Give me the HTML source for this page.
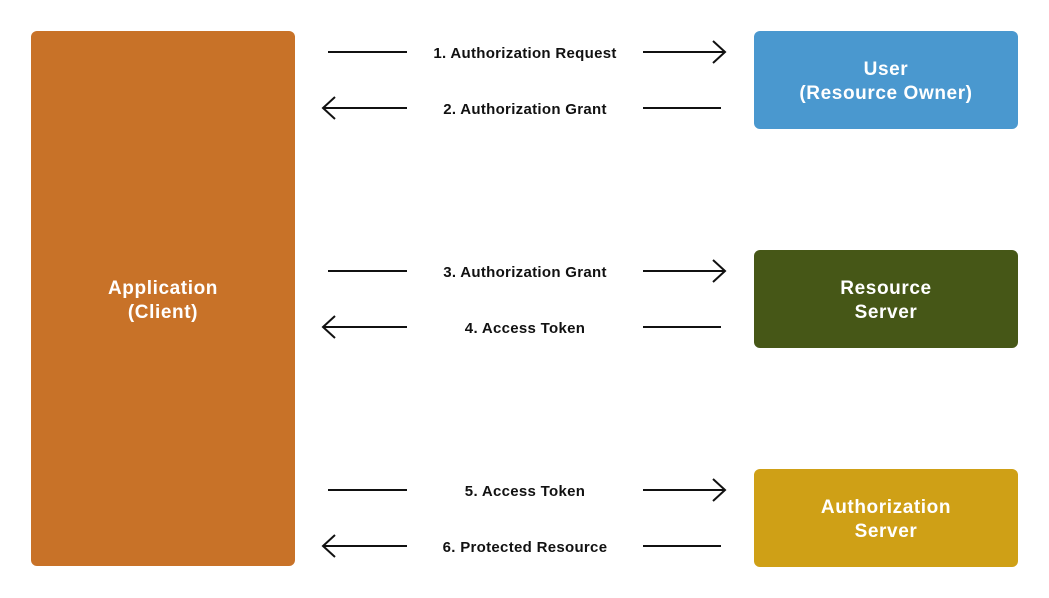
<!DOCTYPE html>
<html><head><style>
body{margin:0;width:1049px;height:598px;background:#fff;position:relative;overflow:hidden;font-family:"Liberation Sans",sans-serif}
.b{position:absolute;border-radius:6px;color:#fff;font-weight:bold;font-size:19px;letter-spacing:0.6px;line-height:24px;display:flex;align-items:center;justify-content:center;text-align:center;box-sizing:border-box;padding-top:4px}
.l{position:absolute;font-size:15px;color:#111;width:236px;left:407px;text-align:center;font-weight:bold;letter-spacing:0.3px;line-height:18px}
</style></head><body>
<div class="b" style="left:31px;top:31px;width:264px;height:535px;background:#C87228">Application<br>(Client)</div>
<div class="b" style="left:754px;top:31px;width:264px;height:98px;background:#4A98CF">User<br>(Resource Owner)</div>
<div class="b" style="left:754px;top:250px;width:264px;height:98px;background:#465717">Resource<br>Server</div>
<div class="b" style="left:754px;top:469px;width:264px;height:98px;background:#CFA016">Authorization<br>Server</div>
<div class="l" style="top:45px">1. Authorization Request</div>
<div class="l" style="top:101px">2. Authorization Grant</div>
<div class="l" style="top:264px">3. Authorization Grant</div>
<div class="l" style="top:320px">4. Access Token</div>
<div class="l" style="top:483px">5. Access Token</div>
<div class="l" style="top:539px">6. Protected Resource</div>
<svg width="1049" height="598" style="position:absolute;left:0;top:0" fill="none" stroke="#111" stroke-width="2">
<g id="p">
<path d="M328 52H407M643 52H725M713 41L725 52L713 63"/>
<path d="M323 108H407M643 108H721M335 97L323 108L335 119"/>
</g>
<use href="#p" y="219"/>
<use href="#p" y="438"/>
</svg>
</body></html>
